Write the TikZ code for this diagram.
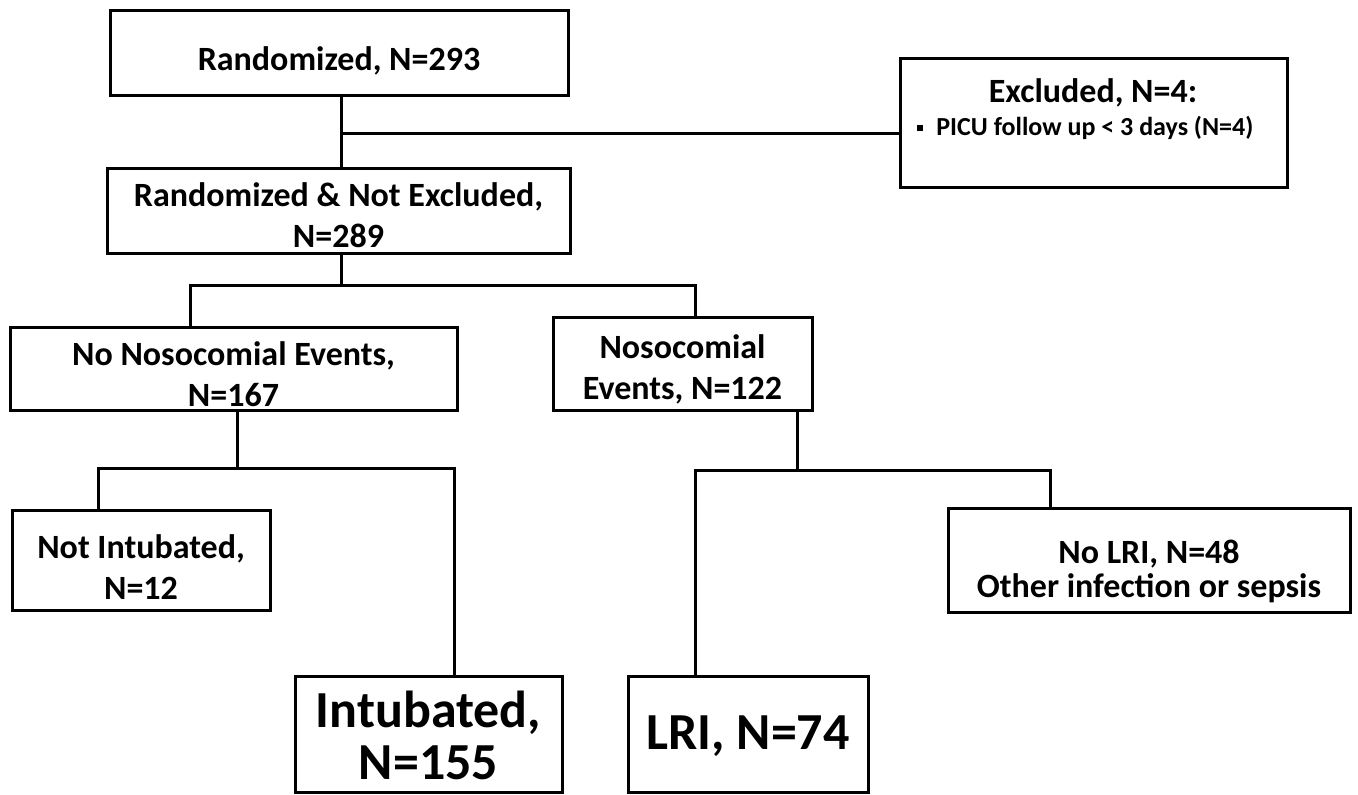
\documentclass[tikz,border=0pt]{standalone}
\usepackage{fontspec}
\setmainfont{Carlito}
\begin{document}
\begin{tikzpicture}[x=0.5pt, y=-0.5pt,
    caixa/.style={draw, line width=1.5pt, inner sep=0pt},
    rotulo/.style={inner sep=0pt, align=center, font=\fontsize{17}{20.5}\selectfont\bfseries},
    grande/.style={rotulo, font=\fontsize{26}{26}\selectfont\bfseries},
    liga/.style={line width=1.5pt}]
% Moldura
\useasboundingbox (0,0) rectangle (1358,794);

% Caixas
\node[caixa, minimum width=229pt, minimum height=42.5pt] (rand) at (339,52.5) {};
\node[caixa, minimum width=193.5pt, minimum height=64.5pt] (excl) at (1093.5,122.5) {};
\node[caixa, minimum width=231.5pt, minimum height=42.5pt] (nexc) at (338.5,210.5) {};
\node[caixa, minimum width=223.5pt, minimum height=41.5pt] (nonos) at (233.5,368.5) {};
\node[caixa, minimum width=129.5pt, minimum height=46.5pt] (nos) at (682.5,363.5) {};
\node[caixa, minimum width=129pt, minimum height=50pt] (notint) at (141,560) {};
\node[caixa, minimum width=133.5pt, minimum height=58pt] (intub) at (428.5,734) {};
\node[caixa, minimum width=120pt, minimum height=58pt] (lri) at (748,734) {};
\node[caixa, minimum width=201pt, minimum height=52pt] (nolri) at (1149,560) {};

% Textos
\node[rotulo] (randt) at (339,60.5) {Randomized, N=293};
\node[rotulo] (exclt) at (1093,93) {Excluded, N=4:};
\node[rotulo, font=\fontsize{13}{15}\selectfont\bfseries, anchor=west] (exclb) at (917,128)
    {\rule[0.35ex]{3pt}{3pt}\hspace{6.5pt}PICU follow up < 3 days (N=4)};
\node[rotulo] (nexct) at (338.5,215.5) {Randomized \& Not Excluded,\\N=289};
\node[rotulo] (nonost) at (233.5,374.5) {No Nosocomial Events,\\N=167};
\node[rotulo] (nost) at (682.5,369.5) {Nosocomial\\Events, N=122};
\node[rotulo] (notintt) at (141,567) {Not Intubated,\\N=12};
\node[grande] (intubt) at (428.5,735) {Intubated,\\N=155};
\node[grande] (lrit) at (748,736) {LRI, N=74};
\node[rotulo, font=\fontsize{17}{17}\selectfont\bfseries] (nolrit) at (1149,571) {No LRI, N=48\\Other infection or sepsis};

% Pontos de ramificacao
\coordinate (j1) at (341,133);
\coordinate (j2) at (341,285);
\coordinate (b2l) at (190,285);
\coordinate (b2r) at (695,285);
\coordinate (j3) at (237,468);
\coordinate (b3l) at (98,468);
\coordinate (b3r) at (454,468);
\coordinate (j4) at (797,470);
\coordinate (b4l) at (695,470);
\coordinate (b4r) at (1050,470);

% Ligacoes
\draw[liga] (rand.south -| j1) -- (nexc.north -| j1);
\draw[liga] (j1) -- (j1 -| excl.west);
\draw[liga] (nexc.south -| j2) -- (j2);
\draw[liga] (j3 |- nonos.south) -- (j3);
\draw[liga] (j4 |- nos.south) -- (j4);
\foreach \l/\r/\a/\b in {b2l/b2r/nonos/nos, b3l/b3r/notint/intub, b4l/b4r/lri/nolri} {
    \draw[liga] (\l |- \a.north) -- (\l) -- (\r) -- (\r |- \b.north);
}
\end{tikzpicture}
\end{document}
